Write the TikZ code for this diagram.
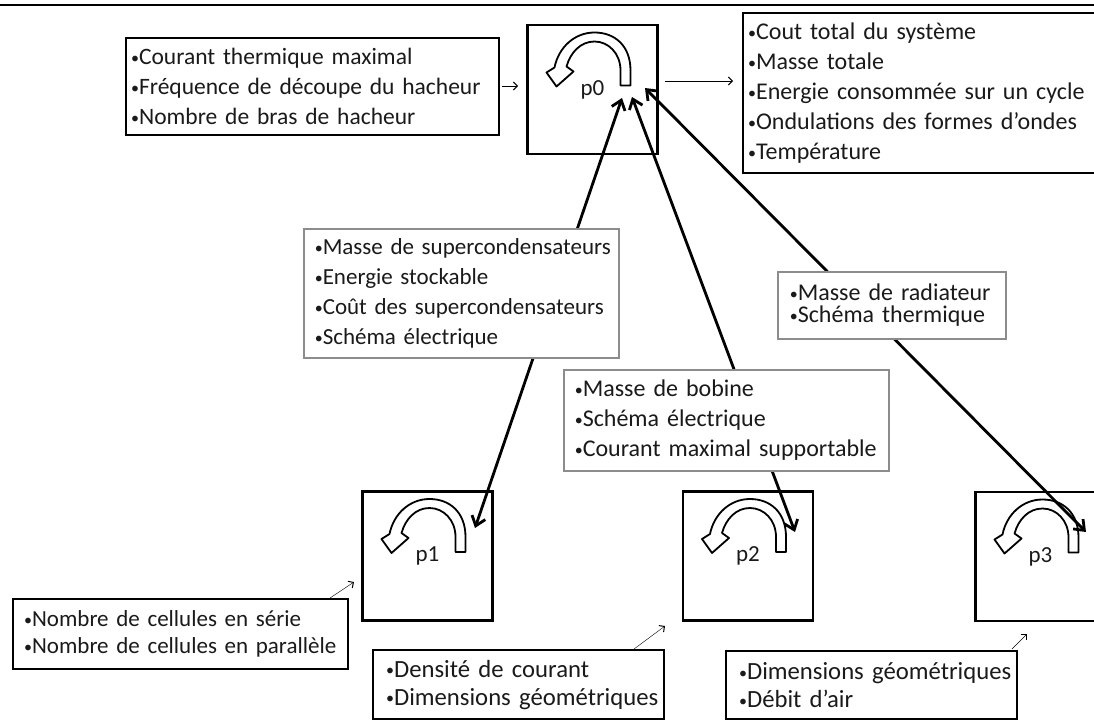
\documentclass[tikz,border=0pt]{standalone}
\usepackage{fontspec}
\setmainfont{Carlito}
\usetikzlibrary{arrows.meta,calc}
\definecolor{txt}{HTML}{1A1A1A}
\definecolor{thin}{HTML}{808080}
\definecolor{lbl}{HTML}{8C8C8C}
\newcommand{\bu}{\raisebox{1.2pt}{\fontsize{16}{16}\selectfont •}}
\newcommand{\li}[1]{\mbox{\bu #1}}
\tikzset{
  box/.style={anchor=north west, align=left, inner xsep=5pt, inner ysep=0pt,
    fill=white, text=txt, font=\fontsize{24}{30}\selectfont},
  iobox/.style={box, draw=black, line width=2.2pt},
  lblbox/.style={box, draw=lbl, line width=1.6pt},
  bigtext/.style={font=\fontsize{24.7}{28}\selectfont},
  pbox/.style={draw=black, line width=2.5pt, minimum width=130, minimum height=129,
    inner sep=0pt, text=txt, font=\fontsize{23}{26}\selectfont},
  mainarrow/.style={line width=2.8pt, black,
    {Straight Barb[length=9pt,width=14pt,line width=2.8pt]}-{Straight Barb[length=9pt,width=14pt,line width=2.8pt]}},
  thinarrow/.style={line width=1pt, thin, -{Straight Barb[length=4pt,width=8pt,line width=1pt]}},
  uturn/.pic={
    \draw[line width=1.8pt, fill=white, line join=round]
      (36,0) -- (36,-15) .. controls (36,-40) and (20,-53) .. (0,-53)
      .. controls (-20,-53) and (-36,-38) .. (-40,-18)
      -- (-48,-13) -- (-38,1) -- (-21,-14) -- (-28,-19)
      .. controls (-24,-33) and (-14,-44) .. (0,-44)
      .. controls (14,-44) and (26,-32) .. (26,-15) -- (26,0) -- cycle;
  }
}
\begin{document}
\begin{tikzpicture}[x=1pt,y=-1pt]
\useasboundingbox (0,0) rectangle (1094,720);
\clip (0,0) rectangle (1094,720);
\draw[line width=2pt] (0,5) -- (1094,5);

% optimisation boxes
\node[pbox] (p0) at (592.5,89.5) {p0};
\node[pbox] (p1) at (427.5,556) {p1};
\node[pbox] (p2) at (748,556) {p2};
\node[pbox] (p3) at (1040.5,556.5) {p3};
\foreach \p in {p0,p1,p2,p3} \pic at ($(\p.center)+(2,-4)$) {uturn};

% input / output boxes
\node[iobox, inner xsep=5pt, minimum width=373, minimum height=97, text width=363,
      font=\fontsize{23.5}{30}\selectfont] (in0) at (125,37)
 {\li{Courant thermique maximal}\\\li{Fréquence de découpe du hacheur}\\\li{Nombre de bras de hacheur}};
\node[iobox, inner xsep=5pt, minimum width=362, minimum height=160, text width=352] (out0) at (742,12)
 {\li{Cout total du système}\\\li{Masse totale}\\\li{Energie consommée sur un cycle}\\\li{Ondulations des formes d'ondes}\\\li{Température}};
\node[iobox, inner xsep=11pt, minimum width=335, minimum height=70, text width=313,
      font=\fontsize{23}{27}\selectfont] (in1) at (12,598)
 {\li{Nombre de cellules en série}\\\li{Nombre de cellules en parallèle}};
\node[iobox, bigtext, inner xsep=13pt, minimum width=291, minimum height=69, text width=265] (in2) at (372,649)
 {\li{Densité de courant}\\\li{Dimensions géométriques}};
\node[iobox, bigtext, inner xsep=13pt, minimum width=291, minimum height=68, text width=265] (in3) at (725,650)
 {\li{Dimensions géométriques}\\\li{Débit d'air}};

% connector end points
\coordinate (p0a) at (622,98);
\coordinate (p0b) at (632,97);
\coordinate (p0c) at (645,88);
\coordinate (p1a) at (475,528);
\coordinate (p2a) at (795,532);
\coordinate (p3a) at (1086,532);

\draw[mainarrow] (p1a) -- (p0a);
\draw[mainarrow] (p2a) -- (p0b);
\draw[mainarrow] (p3a) -- (p0c);

% label boxes on connectors
\node[lblbox, inner xsep=11pt, minimum width=315, minimum height=129, text width=293,
      font=\fontsize{23}{30}\selectfont] (l1) at (303,228)
 {\li{Masse de supercondensateurs}\\\li{Energie stockable}\\\li{Coût des supercondensateurs}\\\li{Schéma électrique}};
\node[lblbox, inner xsep=11pt, minimum width=325, minimum height=101, text width=303] (l2) at (563,369)
 {\li{Masse de bobine}\\\li{Schéma électrique}\\\li{Courant maximal supportable}};
\node[lblbox, inner xsep=12pt, minimum width=228, minimum height=67, text width=204,
      font=\fontsize{24}{22}\selectfont] (l3) at (777,271)
 {\li{Masse de radiateur}\\\li{Schéma thermique}};

% thin arrows
\coordinate (a0s) at (502,86);
\coordinate (a0e) at (518,86);
\coordinate (b0s) at (665,81);
\coordinate (b0e) at (733,81);
\coordinate (a1s) at (330,598);
\coordinate (a1e) at (354,582);
\coordinate (a2s) at (634,649);
\coordinate (a2e) at (665,626);
\coordinate (a3s) at (1012,649);
\coordinate (a3e) at (1027,634);
\draw[thinarrow] (a0s) -- (a0e);
\draw[thinarrow] (b0s) -- (b0e);
\draw[thinarrow] (a1s) -- (a1e);
\draw[thinarrow] (a2s) -- (a2e);
\draw[thinarrow] (a3s) -- (a3e);
\end{tikzpicture}
\end{document}
